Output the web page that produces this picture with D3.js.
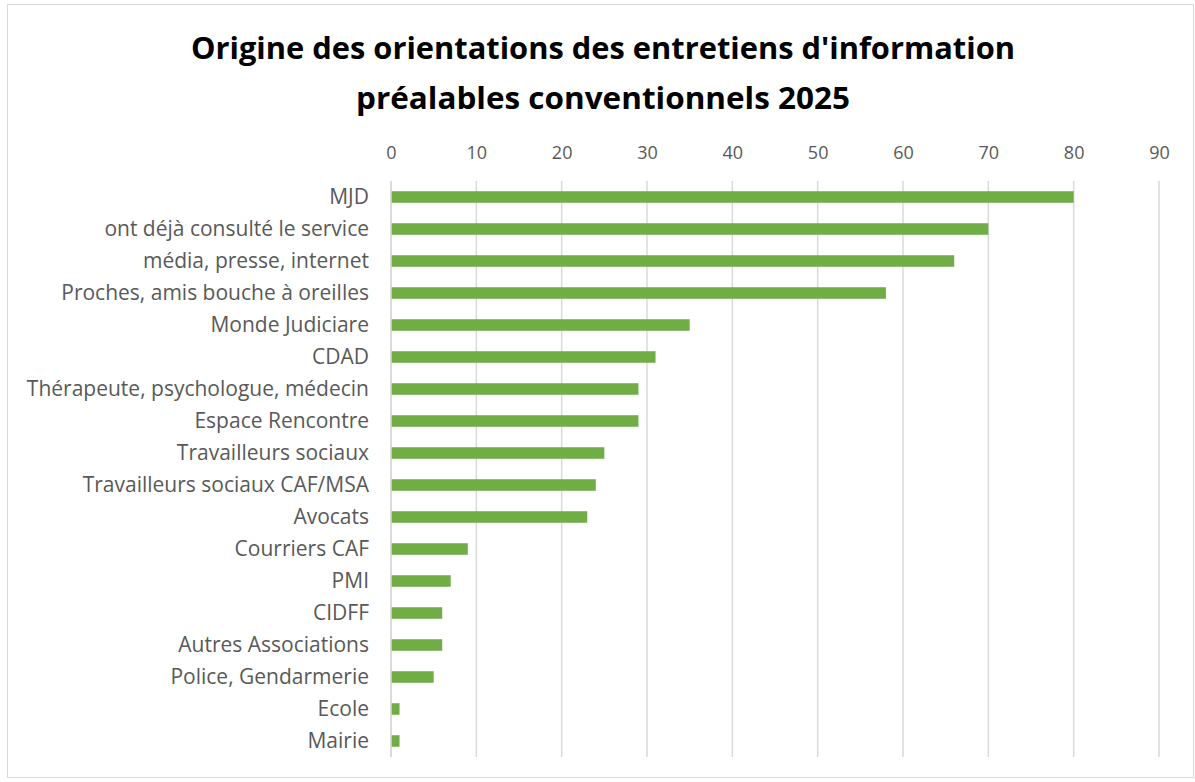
<!DOCTYPE html>
<html>
<head>
<meta charset="utf-8">
<script src="https://cdn.jsdelivr.net/npm/d3@7.9.0/dist/d3.min.js"></script>
<style>
  body { margin: 0; background: #fff; }
  svg { display: block; }
</style>
</head>
<body>
<svg id="chart" width="1195" height="782"></svg>
<script>
// data
const categories = [
  'MJD', 'ont déjà consulté le service', 'média, presse, internet',
  'Proches, amis bouche à oreilles', 'Monde Judiciare', 'CDAD',
  'Thérapeute, psychologue, médecin', 'Espace Rencontre', 'Travailleurs sociaux',
  'Travailleurs sociaux CAF/MSA', 'Avocats', 'Courriers CAF', 'PMI', 'CIDFF',
  'Autres Associations', 'Police, Gendarmerie', 'Ecole', 'Mairie'
];
const values = [80, 70, 66, 58, 35, 31, 29, 29, 25, 24, 23, 9, 7, 6, 6, 5, 1, 1];
const xTicks = [0, 10, 20, 30, 40, 50, 60, 70, 80, 90];
const titleLines = [
  "Origine des orientations des entretiens d'information",
  'préalables conventionnels 2025'
];

const svg = d3.select('#chart');

// chart frame
svg.append('rect')
  .attr('x', 7.5).attr('y', 4.5)
  .attr('width', 1186).attr('height', 773)
  .attr('fill', '#fff')
  .attr('stroke', '#d9d9d9');

// title
const titleY = [59, 109];
const titleW = [824, 494];
titleLines.forEach((t, i) => {
  svg.append('text')
    .attr('x', 603).attr('y', titleY[i])
    .attr('text-anchor', 'middle')
    .attr('font-family', 'Open Sans, sans-serif')
    .attr('font-weight', 'bold')
    .attr('font-size', 30)
    .attr('fill', '#000')
    .attr('textLength', titleW[i])
    .attr('lengthAdjust', 'spacingAndGlyphs')
    .text(t);
});

const x = d3.scaleLinear().domain([0, 90]).range([391, 1159]);
const y = d3.scaleBand().domain(categories).range([181, 757]).paddingInner(0.64).paddingOuter(0.32);

// gridlines
svg.append('g')
  .selectAll('line')
  .data(xTicks)
  .join('line')
  .attr('x1', d => x(d)).attr('x2', d => x(d))
  .attr('y1', 181).attr('y2', 757)
  .attr('stroke', '#d9d9d9')
  .attr('stroke-width', 1.5);

// top axis
const xAxis = svg.append('g')
  .attr('transform', 'translate(0,159)')
  .call(d3.axisTop(x).tickValues(xTicks).tickSize(0).tickPadding(0));
xAxis.select('.domain').remove();
xAxis.selectAll('text')
  .attr('font-family', 'Open Sans, sans-serif')
  .attr('font-size', 18)
  .attr('fill', '#595959');

// bars
svg.append('g')
  .selectAll('rect')
  .data(values)
  .join('rect')
  .attr('x', x(0))
  .attr('y', (d, i) => y(categories[i]))
  .attr('width', d => x(d) - x(0))
  .attr('height', y.bandwidth())
  .attr('fill', '#70ad47');

// category axis
const yAxis = svg.append('g')
  .attr('transform', `translate(${x(0)},0)`)
  .call(d3.axisLeft(y).tickSize(0).tickPadding(22));
yAxis.select('.domain')
  .attr('stroke', '#d9d9d9')
  .attr('stroke-width', 1.5)
  .attr('d', `M0,181V757`);
yAxis.selectAll('text')
  .attr('font-family', 'Open Sans, sans-serif')
  .attr('font-size', 21)
  .attr('fill', '#595959');
</script>
</body>
</html>
